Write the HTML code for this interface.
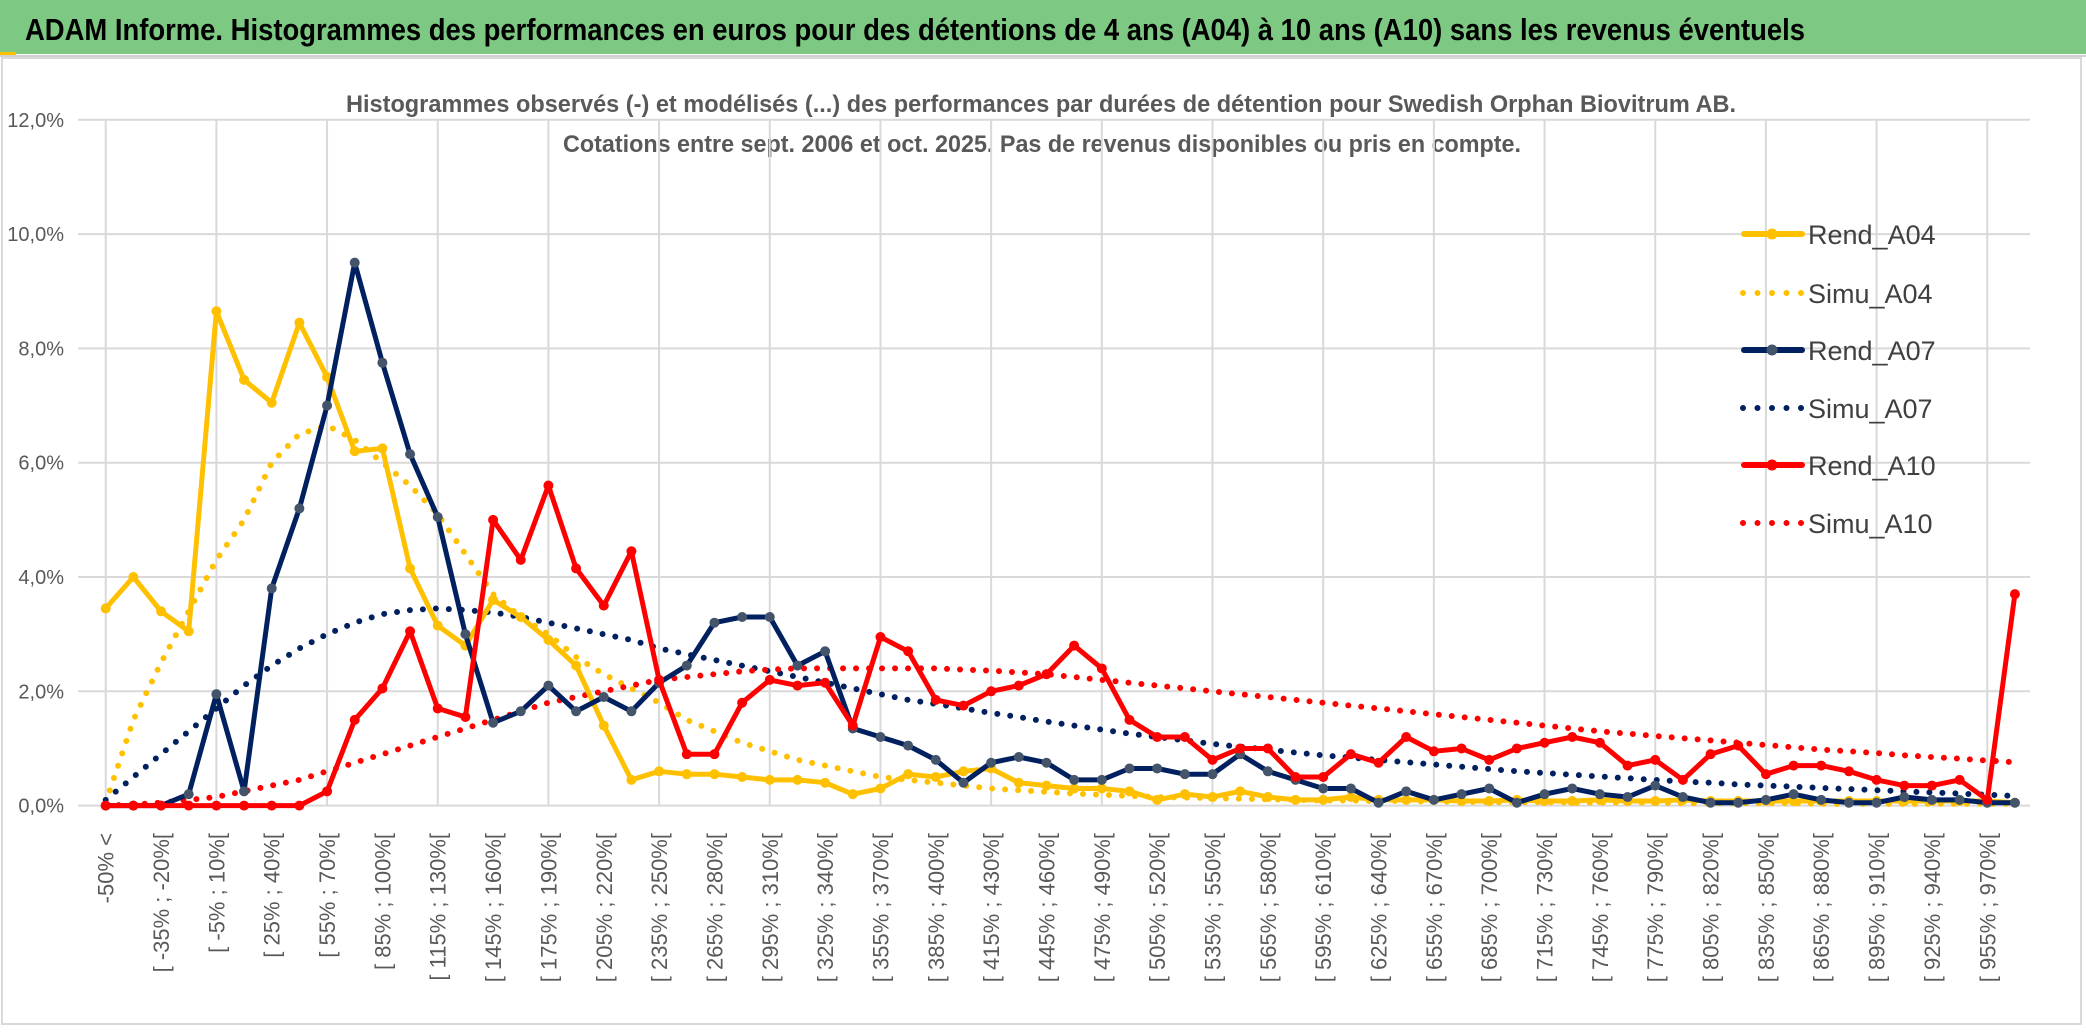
<!DOCTYPE html>
<html><head><meta charset="utf-8"><style>
html,body{margin:0;padding:0;background:#fff}
svg{display:block;font-family:"Liberation Sans",sans-serif}
</style></head><body>
<svg id="c" width="2086" height="1033" viewBox="0 0 2086 1033">
<rect x="0" y="0" width="2086" height="1033" fill="#fff"/>
<rect x="0" y="0" width="2086" height="54" fill="#7DC882"/>
<rect x="0" y="52" width="16" height="3" fill="#FFC000"/>
<line x1="0" y1="56" x2="2086" y2="56" stroke="#d0d0d0" stroke-width="2"/>
<text x="25" y="40" font-size="31" font-weight="bold" fill="#000" textLength="1780" lengthAdjust="spacingAndGlyphs">ADAM Informe. Histogrammes des performances en euros pour des détentions de 4 ans (A04) à 10 ans (A10) sans les revenus éventuels</text>
<rect x="2" y="58" width="2079" height="966" fill="none" stroke="#d9d9d9" stroke-width="2"/>
<text x="1041" y="112" font-size="24" font-weight="bold" fill="#595959" text-anchor="middle" textLength="1390" lengthAdjust="spacingAndGlyphs">Histogrammes observés (-) et modélisés (...) des performances par durées de détention pour Swedish Orphan Biovitrum AB.</text>
<text x="1042" y="152" font-size="24" font-weight="bold" fill="#595959" text-anchor="middle" textLength="958" lengthAdjust="spacingAndGlyphs">Cotations entre sept. 2006 et oct. 2025. Pas de revenus disponibles ou pris en compte.</text>
<g id="grid"></g><g id="ylab"></g><g id="xlab"></g><g id="series"></g>
<g id="legend"></g>
</svg>
<script>
const categoryStarts = [null];
for (let s = -50; s <= 970; s += 15) categoryStarts.push(s);
const yTicks = [0,2,4,6,8,10,12];
const rendA04 = [3.45,4.0,3.4,3.05,8.65,7.45,7.05,8.45,7.5,6.2,6.25,4.15,3.15,2.8,3.6,3.3,2.9,2.45,1.4,0.45,0.6,0.55,0.55,0.5,0.45,0.45,0.4,0.2,0.3,0.55,0.5,0.6,0.65,0.4,0.35,0.3,0.3,0.25,0.1,0.2,0.15,0.25,0.15,0.1,0.1,0.15,0.1,0.1,0.1,0.08,0.08,0.1,0.08,0.08,0.1,0.08,0.08,0.1,0.08,0.08,0.08,0.08,0.08,0.08,0.08,0.08,0.08,0.08,0.08,0.05];
const simuA04 = [0.05,1.5,2.5,3.4,4.3,5.0,6.0,6.5,6.65,6.4,6.0,5.6,5.1,4.4,3.7,3.3,3.0,2.6,2.3,2.05,1.8,1.5,1.3,1.1,0.95,0.8,0.7,0.6,0.5,0.45,0.4,0.35,0.3,0.27,0.24,0.21,0.19,0.17,0.15,0.14,0.13,0.12,0.11,0.1,0.09,0.09,0.08,0.08,0.07,0.07,0.06,0.06,0.06,0.05,0.05,0.05,0.05,0.04,0.04,0.04,0.04,0.04,0.03,0.03,0.03,0.03,0.03,0.03,0.03,0.03];
const rendA07 = [0,0,0,0.2,1.95,0.25,3.8,5.2,7.0,9.5,7.75,6.15,5.05,3.0,1.45,1.65,2.1,1.65,1.9,1.65,2.15,2.45,3.2,3.3,3.3,2.45,2.7,1.35,1.2,1.05,0.8,0.4,0.75,0.85,0.75,0.45,0.45,0.65,0.65,0.55,0.55,0.9,0.6,0.45,0.3,0.3,0.05,0.25,0.1,0.2,0.3,0.05,0.2,0.3,0.2,0.15,0.35,0.15,0.05,0.05,0.1,0.2,0.1,0.05,0.05,0.15,0.1,0.1,0.05,0.05];
const simuA07 = [0.1,0.5,0.9,1.3,1.7,2.1,2.45,2.75,3.0,3.2,3.35,3.42,3.45,3.42,3.38,3.3,3.2,3.1,3.0,2.9,2.75,2.65,2.55,2.45,2.35,2.25,2.15,2.05,1.95,1.85,1.78,1.7,1.62,1.55,1.47,1.4,1.33,1.26,1.2,1.14,1.08,1.03,0.98,0.93,0.88,0.84,0.8,0.76,0.72,0.68,0.64,0.6,0.57,0.54,0.51,0.48,0.45,0.42,0.4,0.37,0.35,0.33,0.31,0.29,0.27,0.25,0.23,0.21,0.19,0.17];
const rendA10 = [0,0,0,0,0,0,0,0,0.25,1.5,2.05,3.05,1.7,1.55,5.0,4.3,5.6,4.15,3.5,4.45,2.2,0.9,0.9,1.8,2.2,2.1,2.15,1.4,2.95,2.7,1.85,1.75,2.0,2.1,2.3,2.8,2.4,1.5,1.2,1.2,0.8,1.0,1.0,0.5,0.5,0.9,0.75,1.2,0.95,1.0,0.8,1.0,1.1,1.2,1.1,0.7,0.8,0.45,0.9,1.05,0.55,0.7,0.7,0.6,0.45,0.35,0.35,0.45,0.1,3.7];
const simuA10 = [0,0.02,0.05,0.1,0.15,0.25,0.35,0.45,0.6,0.75,0.9,1.05,1.2,1.35,1.5,1.65,1.8,1.9,2.0,2.1,2.2,2.25,2.3,2.35,2.38,2.4,2.4,2.4,2.4,2.4,2.4,2.38,2.36,2.33,2.3,2.25,2.2,2.15,2.1,2.05,2.0,1.95,1.9,1.85,1.8,1.75,1.7,1.65,1.6,1.55,1.5,1.45,1.4,1.35,1.3,1.26,1.22,1.18,1.14,1.1,1.06,1.02,0.98,0.95,0.92,0.88,0.85,0.82,0.79,0.76];

const NS='http://www.w3.org/2000/svg';
const X0=105.7, DX=27.67, Y0=805.6, PY=57.15;
const xs = i => X0 + DX*i;
const ys = v => Y0 - v*PY;
function mk(tag, attrs, parent){const e=document.createElementNS(NS,tag);for(const k in attrs)e.setAttribute(k,attrs[k]);parent.appendChild(e);return e;}
const grid=document.getElementById('grid'), ylab=document.getElementById('ylab'), xlab=document.getElementById('xlab'), ser=document.getElementById('series'), leg=document.getElementById('legend');
yTicks.forEach(t=>{
  const l=mk('line',{x1:78,x2:2030,y1:ys(t),y2:ys(t),stroke:'#d9d9d9','stroke-width':2},grid);
  
  
  const tx=mk('text',{x:64,y:ys(t)+7,'font-size':20,fill:'#595959','text-anchor':'end'},ylab);
  tx.textContent=t.toFixed(1).replace('.',',')+'%';
  
  
});
for(let i=0;i<categoryStarts.length;i+=4){
  const l=mk('line',{x1:xs(i),x2:xs(i),y1:ys(12),y2:ys(0),stroke:'#d9d9d9','stroke-width':2},grid);
  
  
}
for(let i=0;i<categoryStarts.length;i+=2){
  const s=categoryStarts[i];
  const lbl = i===0 ? '-50% <' : '[ '+s+'% ; '+(s+15)+'%[';
  const x=xs(i)+8, y=833;
  const tx=mk('text',{x:x,y:y,'font-size':22,fill:'#595959','text-anchor':'end',transform:'rotate(-90 '+x+' '+y+')'},xlab);
  tx.textContent=lbl;
  
  
}
function pts(arr){return arr.map((v,i)=>xs(i).toFixed(1)+','+ys(v).toFixed(1)).join(' ');}
function dotted(arr,color,name){
  const p=mk('polyline',{points:pts(arr),fill:'none',stroke:color,'stroke-width':6,'stroke-linecap':'round','stroke-dasharray':'0 13'},ser);
  
  
}
function solid(arr,color,mcolor,name){
  const p=mk('polyline',{points:pts(arr),fill:'none',stroke:color,'stroke-width':5,'stroke-linejoin':'round'},ser);
  
  
  arr.forEach((v,i)=>{
    const c=mk('circle',{cx:xs(i),cy:ys(v),r:5,fill:mcolor},ser);
    
    
  });
}
dotted(simuA04,'#FFC000','simu-a04-line');
dotted(simuA07,'#002060','simu-a07-line');
dotted(simuA10,'#FF0000','simu-a10-line');
solid(rendA04,'#FFC000','#FFC000','rend-a04-line');
solid(rendA07,'#002060','#44546A','rend-a07-line');
solid(rendA10,'#FF0000','#FF0000','rend-a10-line');

const legItems=[['Rend_A04','#FFC000','#FFC000',false],['Simu_A04','#FFC000',null,true],['Rend_A07','#002060','#44546A',false],['Simu_A07','#002060',null,true],['Rend_A10','#FF0000','#FF0000',false],['Simu_A10','#FF0000',null,true]];
const legY=[234,293,350,408,465,523];
legItems.forEach((it,k)=>{
  const y=legY[k];
  const g=mk('g',{},leg);
  
  
  if(it[3]){
    mk('line',{x1:1743,x2:1802,y1:y,y2:y,stroke:it[1],'stroke-width':6,'stroke-linecap':'round','stroke-dasharray':'0 14.5'},g);
  } else {
    mk('line',{x1:1744,x2:1802,y1:y,y2:y,stroke:it[1],'stroke-width':6,'stroke-linecap':'round'},g);
    mk('circle',{cx:1772,cy:y,r:5.5,fill:it[2]},g);
  }
  const t=mk('text',{x:1808,y:y+10,'font-size':27,fill:'#404040'},g);
  t.textContent=it[0];
});
</script>
</body></html>
